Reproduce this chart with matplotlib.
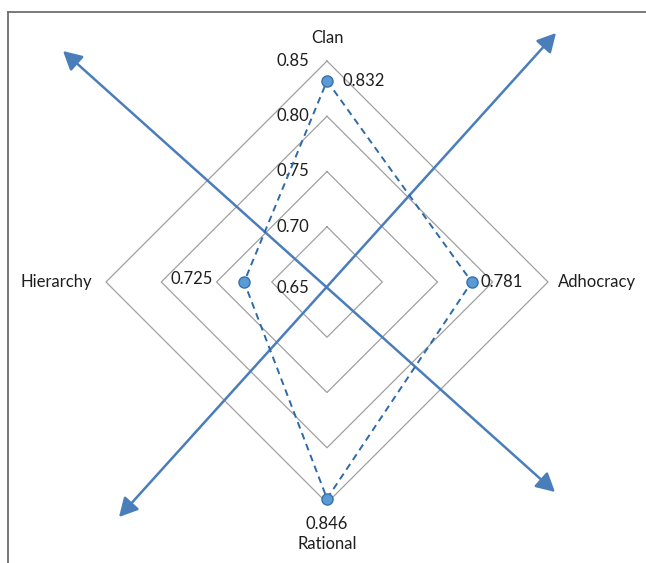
import numpy as np
import matplotlib
matplotlib.use('Agg')
import matplotlib.pyplot as plt
from matplotlib.lines import Line2D
from matplotlib.patches import FancyArrowPatch

# data
categories = ['Clan', 'Adhocracy', 'Rational', 'Hierarchy']
values = [0.832, 0.781, 0.846, 0.725]
ring_ticks = [0.65, 0.70, 0.75, 0.80, 0.85]
tick_labels = ['0.65', '0.70', '0.75', '0.80', '0.85']
value_labels = ['0.832', '0.781', '0.846', '0.725']

r_min = ring_ticks[0]
angles = np.deg2rad([90, 0, -90, 180])

FONT = 'Lato'
FS = 12
grid_c = '#a0a0a0'
line_c = '#2e6aa8'
arrow_c = '#4a7ebb'

fig = plt.figure(figsize=(6.46, 5.63), dpi=100)
ax = fig.add_axes([0, 0, 1, 1])
px = 1105.0  # pixels per data unit
ax.set_xlim(-327 / px, (646 - 327) / px)
ax.set_ylim(-(563 - 282) / px, 282 / px)
ax.axis('off')

def xy(v, a):
    r = v - r_min
    return r * np.cos(a), r * np.sin(a)

# grid diamonds
for t in ring_ticks[1:]:
    pts = [xy(t, a) for a in angles] + [xy(t, angles[0])]
    ax.plot([p[0] for p in pts], [p[1] for p in pts], color=grid_c, lw=0.9, zorder=1)

# tick labels along the top axis
for t, lab in zip(ring_ticks, tick_labels):
    x, y = xy(t, angles[0])
    dy = -6 if t == r_min else 0
    ax.annotate(lab, (x, y), xytext=(-18, dy), textcoords='offset pixels',
                ha='right', va='center', fontsize=FS, family=FONT, color='#1e1e1e')

# series
pts = [xy(v, a) for v, a in zip(values, angles)]
xs = [p[0] for p in pts] + [pts[0][0]]
ys = [p[1] for p in pts] + [pts[0][1]]
ax.plot(xs, ys, color=line_c, lw=1.4, ls=(0, (3.5, 2.5)), zorder=3)
ax.plot(xs[:-1], ys[:-1], ls='none', marker='o', ms=8, mfc='#5b9bd5', mec='#3a70a8',
        mew=1.0, zorder=4)

# data labels
lab_off = [(15, 0, 'left', 'center'), (9, 0, 'left', 'center'),
           (0, -25, 'center', 'center'), (-31, 3, 'right', 'center')]
for (x, y), lab, (ox, oy, ha, va) in zip(pts, value_labels, lab_off):
    ax.annotate(lab, (x, y), xytext=(ox, oy), textcoords='offset pixels',
                ha=ha, va=va, fontsize=FS, family=FONT, color='#1e1e1e')

# category labels
outer = ring_ticks[-1]
cat_off = [(0, 23, 'center'), (10, 0, 'left'), (0, -41, 'center'), (-14, 0, 'right')]
for cat, a, (ox, oy, ha) in zip(categories, angles, cat_off):
    x, y = xy(outer, a)
    ax.annotate(cat, (x, y), xytext=(ox, oy), textcoords='offset pixels',
                ha=ha, va='center', fontsize=FS, family=FONT, color='#1e1e1e')

# crossing arrows
for a0, a1 in [((119 / 646, 1 - 517 / 563), (556 / 646, 1 - 33 / 563)),
               ((63 / 646, 1 - 51 / 563), (555 / 646, 1 - 492 / 563))]:
    arr = FancyArrowPatch(a0, a1, transform=ax.transAxes,
                          arrowstyle='<|-|>,head_length=0.75,head_width=0.4',
                          mutation_scale=15, color=arrow_c, lw=1.8,
                          shrinkA=0, shrinkB=0, zorder=2)
    ax.add_patch(arr)

# frame (open on right and bottom)
fx, fy = 8 / 646, 1 - 11.5 / 563
fig.add_artist(Line2D([fx, fx], [0, fy], color='#6e6e6e', lw=1.3))
fig.add_artist(Line2D([fx, 1], [fy, fy], color='#6e6e6e', lw=1.3))

fig.savefig('out.png', dpi=100)
